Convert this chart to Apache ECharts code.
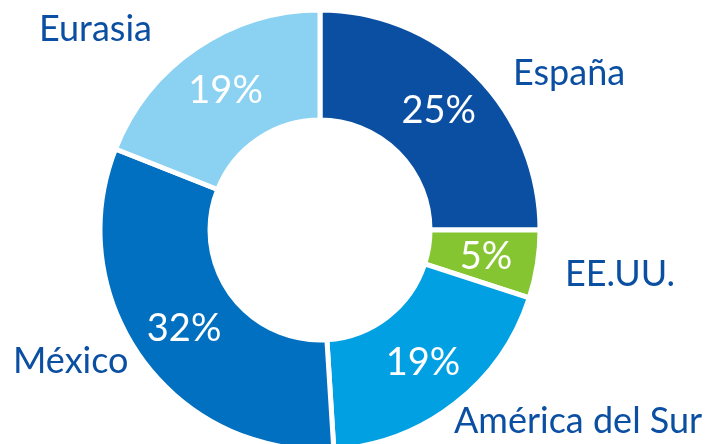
<!DOCTYPE html>
<html>
<head>
<meta charset="utf-8">
<script src="https://cdn.jsdelivr.net/npm/echarts@6/dist/echarts.min.js"></script>
<style>
  html, body { margin: 0; padding: 0; background: #fff; }
  #chart { width: 711px; height: 444px; }
</style>
</head>
<body>
<div id="chart"></div>
<script>
const regions = ['España', 'EE.UU.', 'América del Sur', 'México', 'Eurasia']
const shares = [25, 5, 19, 32, 19]
const colors = ['#0b4fa3', '#86c532', '#00a0e3', '#0270c0', '#8ad1f2']

// where the region names sit (left edge, vertical middle)
const nameSpots = [[513, 73], [565, 274], [454, 421], [13, 361], [39, 29]]

const myChart = echarts.init(document.getElementById('chart'), null, { renderer: 'canvas' })

const pieData = regions.map((name, i) => ({
  name: name,
  value: shares[i],
  itemStyle: { color: colors[i] }
}))

myChart.setOption({
  animation: false,
  series: [
    {
      type: 'pie',
      center: [320, 230],
      radius: [110, 220],
      startAngle: 90,
      clockwise: true,
      silent: true,
      itemStyle: { borderColor: '#fff', borderWidth: 5 },
      label: {
        show: true,
        position: 'inside',
        formatter: '{c}%',
        color: '#fff',
        fontFamily: 'Lato',
        fontSize: 38,
        fontWeight: 'normal'
      },
      labelLine: { show: false },
      data: pieData
    },
    {
      type: 'pie',
      center: [320, 230],
      radius: [110, 220],
      startAngle: 90,
      silent: true,
      itemStyle: { color: 'rgba(0,0,0,0)', borderWidth: 0 },
      label: {
        show: true,
        position: 'outside',
        formatter: '{b}',
        color: '#0b4fa3',
        fontFamily: 'Lato',
        fontSize: 36,
        overflow: 'none',
        width: 300
      },
      labelLine: { show: false },
      labelLayout: function (p) {
        const s = nameSpots[p.dataIndex]
        return { x: s[0], y: s[1], align: 'left', verticalAlign: 'middle' }
      },
      data: regions.map((name, i) => ({ name: name, value: shares[i] }))
    }
  ]
})
</script>
</body>
</html>
